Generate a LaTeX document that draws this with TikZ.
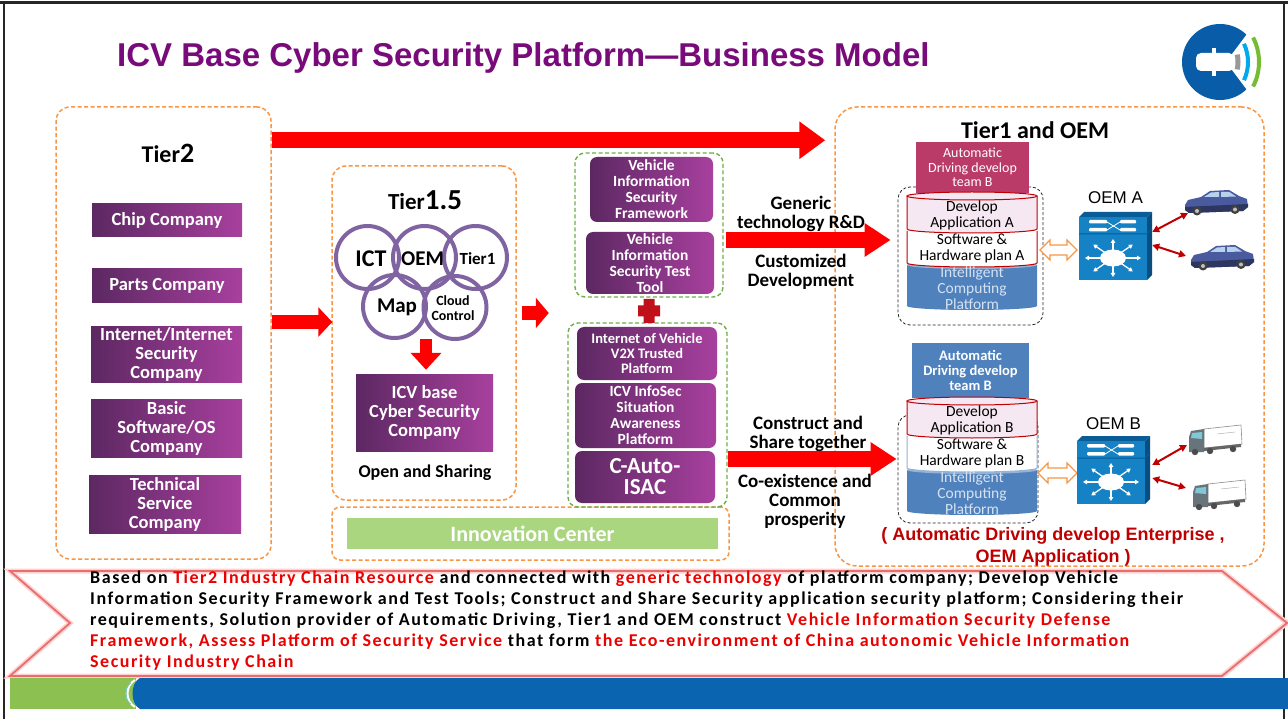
\documentclass[tikz,border=0pt]{standalone}
\usepackage{fontspec}
\setmainfont{Carlito}
\newfontfamily\arialfont{Liberation Sans}
\newfontfamily\bandfont{Carlito}[LetterSpace=8.5]
\usetikzlibrary{arrows.meta,positioning,calc}

\definecolor{titlepurple}{RGB}{120,10,122}
\definecolor{tierorange}{RGB}{247,150,70}
\definecolor{groupgreen}{RGB}{112,173,71}
\definecolor{innogreen}{RGB}{169,214,126}
\definecolor{ringpurple}{RGB}{128,100,162}
\definecolor{boxdark}{RGB}{92,40,98}
\definecolor{boxlight}{RGB}{168,64,158}
\definecolor{teamred}{RGB}{186,58,104}
\definecolor{platblue}{RGB}{79,129,189}
\definecolor{bandgrey}{RGB}{150,178,212}
\definecolor{platfont}{RGB}{214,226,242}
\definecolor{appink}{RGB}{246,232,242}
\definecolor{darkred}{RGB}{192,0,0}
\definecolor{hotred}{RGB}{255,0,0}
\definecolor{plusred}{RGB}{192,16,26}
\definecolor{switchblue}{RGB}{20,130,196}
\definecolor{switchdark}{RGB}{10,92,150}
\definecolor{carblue}{RGB}{74,90,158}
\definecolor{glass}{RGB}{184,210,236}
\definecolor{cabgrey}{RGB}{104,116,124}
\definecolor{cabglass}{RGB}{128,200,214}
\definecolor{barblue}{RGB}{10,100,175}
\definecolor{bargreen}{RGB}{140,193,82}
\definecolor{logoblue}{RGB}{8,92,168}
\definecolor{logosky}{RGB}{0,170,235}
\definecolor{logogreen}{RGB}{118,188,50}
\definecolor{bandline}{RGB}{232,110,110}
\definecolor{textred}{RGB}{235,0,0}

\newcommand{\redtext}[1]{\textcolor{textred}{#1}}

% layered platform: pink app layer, white plan layer, blue computing base
\newcommand{\appstack}[3]{%
  \begin{scope}[shift={(0,#1)}]
    \fill[platblue] (907,265) -- (907,306) arc[start angle=180, end angle=0, x radius=65, y radius=4] -- (1037,265) -- cycle;
    \fill[bandgrey] (972,265) ellipse [x radius=65, y radius=4];
    \draw[#3, fill=white, line width=1pt] (907,231) -- (907,263) arc[start angle=180, end angle=0, x radius=65, y radius=4] -- (1037,231);
    \draw[darkred, fill=appink, line width=1pt] (907,196) -- (907,229) arc[start angle=180, end angle=0, x radius=65, y radius=4] -- (1037,196);
    \draw[darkred, fill=appink, line width=1pt] (972,196) ellipse [x radius=65, y radius=4];
    \node[stacktext] (develop#2) at (972,215.5) {Develop\\Application #2};
    \node[stacktext] (plan#2) at (972,248) {Software \&\\Hardware plan #2};
    \node[stacktext, text=platfont] (computing#2) at (972,288.5) {Intelligent\\Computing\\Platform};
  \end{scope}}

% network switch, (#1,#2) is the top left corner
\newcommand{\switchicon}[2]{%
  \begin{scope}[shift={(#1,#2)}]
    \fill[switchdark] (0,5) -- (5,0) -- (73,0) -- (68,5) -- cycle;
    \fill[switchdark!85!black] (68,5) -- (73,0) -- (73,63) -- (68,68) -- cycle;
    \fill[switchblue] (0,5) rectangle (68,68);
    \draw[switchdark, line width=1pt] (0,22) -- (68,22) -- (73,17);
    \fill[white, rounded corners=1pt] (10,8) rectangle (28,11.5) (41,8) rectangle (57,11.5) (10,16) rectangle (28,19.5) (41,16) rectangle (57,19.5);
    \draw[white, line width=0.8pt] (28,10) -- (41,18) (28,18) -- (41,10);
    \fill[white] (34,46) ellipse [x radius=13, y radius=8.5];
    \foreach \a in {0,45,...,315}
      \draw[white, line width=1.3pt, -{Triangle[length=4pt,width=4.5pt]}] ({34+12*cos(\a)},{46+8*sin(\a)}) -- ({34+28*cos(\a)},{46+19*sin(\a)});
  \end{scope}}

\newcommand{\caricon}[2]{%
  \begin{scope}[shift={(#1,#2)}]
    \fill[carblue] (0,15) -- (3,10) -- (16,7) -- (25,1) -- (44,0) -- (54,6) -- (62,9) -- (63,17) -- (58,21) -- (4,23) -- (0,20) -- cycle;
    \fill[glass] (19,7) -- (26,2.5) -- (34,2) -- (34,7) -- cycle;
    \fill[glass] (36,7) -- (36,2) -- (44,1.8) -- (51,6.5) -- cycle;
    \fill[carblue!60!black] (0,17) -- (63,14) -- (63,17) -- (58,21) -- (4,23) -- (0,20) -- cycle;
    \foreach \w/\h in {12/21,50/19.5} {
      \fill[black!75] (\w,\h) circle (4.5);
      \fill[black!25] (\w,\h) circle (2);}
  \end{scope}}

\newcommand{\truckicon}[2]{%
  \begin{scope}[shift={(#1,#2)}]
    \filldraw[fill=white, draw=black!45, line width=0.6pt] (15,4) -- (52,0) -- (53,19) -- (15,23) -- cycle;
    \draw[black!30, line width=0.5pt] (28,9) -- (46,7);
    \fill[cabgrey] (0,12) -- (2,6) -- (15,4) -- (15,27) -- (0,27) -- cycle;
    \fill[cabglass] (2,13) -- (3,8) -- (13,7) -- (13,14) -- cycle;
    \fill[black!60] (15,23) -- (52,19) -- (52,22) -- (15,26) -- cycle;
    \foreach \w/\h in {6/27,21/26,44/24} \fill[black!70] (\w,\h) circle (3.2);
  \end{scope}}

\newcommand{\hollowarrow}[3]{%
  \draw[tierorange, fill=white, line width=1.1pt] (#1,#3) -- ++(10,-10) -- ++(0,5) -- (#2-10,#3-5) -- ++(0,-5) -- (#2,#3) -- ++(-10,10) -- ++(0,-5) -- (#1+10,#3+5) -- ++(0,5) -- cycle;}

\tikzset{
  tierbox/.style={draw=tierorange, line width=1.5pt, dash pattern=on 4pt off 2.5pt, rounded corners=14pt, inner sep=0pt},
  groupbox/.style={draw=groupgreen, line width=1.4pt, dash pattern=on 4pt off 2.5pt, rounded corners=10pt, inner sep=0pt},
  stackframe/.style={draw=black!85, line width=0.8pt, dash pattern=on 3pt off 2pt, rounded corners=12pt, inner sep=0pt},
  company/.style={left color=boxdark, right color=boxlight, text=white, align=center, inner sep=0pt, font=\bfseries\fontsize{18.5}{19}\selectfont},
  platbox/.style={company, rounded corners=7pt, font=\bfseries\fontsize{15.5}{16}\selectfont},
  teambox/.style={text=white, align=center, inner sep=0pt},
  ring/.style={circle, draw=ringpurple, line width=4pt, minimum size=63pt, inner sep=0pt},
  midtext/.style={align=center, font=\bfseries\fontsize{19}{19}\selectfont},
  stacktext/.style={align=center, font=\fontsize{15.5}{16}\selectfont},
  bigarrow/.style={draw=hotred, line width=16pt, -{Triangle[length=26pt, width=36pt]}},
  smallarrow/.style={draw=hotred, line width=14pt, -{Triangle[length=14pt, width=29pt]}},
  linkarrow/.style={draw=darkred, line width=2pt, {Triangle[length=7pt, width=7pt]}-{Triangle[length=7pt, width=7pt]}},
}

\begin{document}
\begin{tikzpicture}[x=1pt,y=-1pt]
  \useasboundingbox (0,0) rectangle (1288,719);
  \fill[white] (0,0) rectangle (1288,719);
  \draw[black!85, line width=1.5pt] (4,3) -- (4,719) (1284,3) -- (1284,719);
  \draw[black!85, line width=3pt] (0,3) -- (1288,3);

  % title and logo
  \node[anchor=west, inner sep=0pt, text=titlepurple, font=\arialfont\bfseries\fontsize{33}{36}\selectfont] (title) at (117,58) {ICV Base Cyber Security Platform—Business Model};
  \fill[logoblue] (1220,62) circle (38);
  \fill[white] (1226,62) -- (1268,6) -- (1268,118) -- cycle;
  \fill[white, rounded corners=5pt] (1196,53) rectangle (1234,71);
  \fill[white] (1212,48) rectangle (1216,76);
  \draw[black!40, line width=5pt] (1205,62) ++(-13:33) arc[start angle=-13, end angle=13, radius=33];
  \draw[logosky, line width=4pt] (1205,62) ++(-25:43) arc[start angle=-25, end angle=25, radius=43];
  \draw[logogreen, line width=4pt] (1205,62) ++(-27:54) arc[start angle=-27, end angle=27, radius=54];

  % Tier2
  \node[tierbox, minimum width=215pt, minimum height=452pt] (tiertwo) at (163.5,333) {};
  \node[font=\bfseries] (tiertwotitle) at (168,153) {\fontsize{24}{28}\selectfont Tier\fontsize{28}{28}\selectfont 2};
  \node[company, minimum width=150pt, minimum height=33pt] (chip) at (167,220.5) {Chip Company};
  \node[company, minimum width=150pt, minimum height=34pt] (parts) at (167,286) {Parts Company};
  \node[company, minimum width=151pt, minimum height=55pt] (internet) at (166.5,354.5) {Internet/Internet\\Security\\Company};
  \node[company, minimum width=151pt, minimum height=58pt] (basic) at (166.5,428) {Basic\\Software/OS\\Company};
  \node[company, minimum width=152pt, minimum height=58pt] (technical) at (165,504) {Technical\\Service\\Company};

  % Tier1.5
  \node[tierbox, minimum width=184pt, minimum height=334pt] (tiermid) at (424,333) {};
  \node[font=\bfseries] (tiermidtitle) at (425,200) {\fontsize{23}{28}\selectfont Tier\fontsize{29}{28}\selectfont 1.5};
  \foreach \n/\x/\y in {ict/367.5/257.5, oem/424.5/257.5, tierone/475.5/257.5, map/394.5/306.5, cloud/455/307.5}
    \node[ring] (\n) at (\x,\y) {};
  \node[font=\bfseries\fontsize{24}{24}\selectfont] at (371,259) {ICT};
  \node[font=\bfseries\fontsize{21}{21}\selectfont] at (422.5,259) {OEM};
  \node[font=\bfseries\fontsize{17}{17}\selectfont] at (477.5,259) {Tier1};
  \node[font=\bfseries\fontsize{21}{21}\selectfont] at (397,307) {Map};
  \node[font=\bfseries\fontsize{14}{15}\selectfont, align=center] at (453,308) {Cloud\\Control};
  \node[company, minimum width=137pt, minimum height=77pt] (icvco) at (424.5,412.5) {ICV base\\Cyber Security\\Company};
  \node[midtext, font=\bfseries\fontsize{18}{18}\selectfont] (sharing) at (425,473) {Open and Sharing};

  % innovation center
  \node[tierbox, rounded corners=8pt, minimum width=397pt, minimum height=53pt] (innobox) at (530.5,533.5) {};
  \node[fill=innogreen, minimum width=371pt, minimum height=31pt, inner sep=0pt, text=white, font=\bfseries\fontsize{22}{22}\selectfont] (inno) at (532.5,533.5) {Innovation Center};

  % security platforms
  \node[groupbox, minimum width=148pt, minimum height=144pt] (groupA) at (649,225) {};
  \node[groupbox, minimum width=159pt, minimum height=184pt] (groupB) at (647.5,415) {};
  \node[platbox, minimum width=123pt, minimum height=65pt] (framework) at (651.5,189.5) {Vehicle\\Information\\Security\\Framework};
  \node[platbox, minimum width=128pt, minimum height=62pt] (testtool) at (650,263) {Vehicle\\Information\\Security Test\\Tool};
  \node[platbox, minimum width=140pt, minimum height=53pt, font=\bfseries\fontsize{14.5}{15}\selectfont] (vtwox) at (647,353.5) {Internet of Vehicle\\V2X Trusted\\Platform};
  \node[platbox, minimum width=141pt, minimum height=65pt] (infosec) at (645.5,415.5) {ICV InfoSec\\Situation\\Awareness\\Platform};
  \node[platbox, minimum width=140pt, minimum height=52pt, font=\bfseries\fontsize{23}{21}\selectfont] (isac) at (645,477) {C-Auto-\\ISAC};
  \fill[plusred] (643.5,299) rectangle (654.5,323) (638,305.5) rectangle (660,316.5);

  % Tier1 and OEM
  \node[tierbox, rounded corners=22pt, minimum width=429pt, minimum height=459pt] (tieroem) at (1049.5,336.5) {};
  \node[font=\bfseries\fontsize{24}{24}\selectfont] (tieroemtitle) at (1035,130) {Tier1 and OEM};
  \node[stackframe, minimum width=145pt, minimum height=138pt] (stackA) at (970.5,256) {};
  \node[stackframe, minimum width=140pt, minimum height=108pt] (stackB) at (968,469) {};
  \node[teambox, fill=teamred, font=\fontsize{14}{14.5}\selectfont, minimum width=113pt, minimum height=51pt] (teamA) at (972.5,167.5) {Automatic\\Driving develop\\team B};
  \node[teambox, fill=platblue, font=\bfseries\fontsize{14.5}{15}\selectfont, minimum width=117pt, minimum height=55pt] (teamB) at (970.5,370.5) {Automatic\\Driving develop\\team B};
  \appstack{0}{A}{darkred}
  \appstack{205}{B}{bandgrey}
  \hollowarrow{1040}{1077}{250}
  \hollowarrow{1038}{1077}{473}

  \node[minimum width=73pt, minimum height=68pt, inner sep=0pt] (oemA) at (1115.5,246) {};
  \node[minimum width=73pt, minimum height=68pt, inner sep=0pt] (oemB) at (1113.5,470) {};
  \switchicon{1079}{212}
  \switchicon{1077}{436}
  \node[above=5pt of oemA, font=\arialfont\fontsize{17}{17}\selectfont] (oemAname) {OEM A};
  \node[above=3pt of oemB, font=\arialfont\fontsize{17}{17}\selectfont] (oemBname) {OEM B};
  \caricon{1185}{190}
  \caricon{1191}{245}
  \truckicon{1189}{425}
  \truckicon{1193}{480}
  \coordinate (carA) at (1188,213);
  \coordinate (carB) at (1186,256);
  \coordinate (truckA) at (1187,445);
  \coordinate (truckB) at (1186,488);
  \draw[linkarrow] ($(oemA.east)+(0,-14)$) -- (carA);
  \draw[linkarrow] ($(oemA.east)+(0,-1)$) -- (carB);
  \draw[linkarrow] ($(oemB.east)+(2,-5)$) -- (truckA);
  \draw[linkarrow] ($(oemB.east)+(2,8)$) -- (truckB);
  \node[text=darkred, align=center, font=\arialfont\bfseries\fontsize{18}{22}\selectfont] (note) at (1053,547) {( Automatic Driving develop Enterprise ,\\OEM Application )};

  % labels between the columns
  \node[midtext] (generic) at (801,214) {Generic\\technology R\&D};
  \node[midtext] (custom) at (801,272) {Customized\\Development};
  \node[midtext] (construct) at (808,434) {Construct and\\Share together};
  \node[midtext] (coexist) at (805,501) {Co-existence and\\Common\\prosperity};

  % red flow arrows
  \draw[bigarrow] ($(tiertwo.north east)+(0,34)$) -- ($(tieroem.north west)+(-9,34)$);
  \draw[smallarrow] ($(tiertwo.east)+(0,-11)$) -- ($(tiermid.west)+(1,-11)$);
  \draw[smallarrow, -{Triangle[length=13pt, width=30pt]}] ($(tiermid.east)+(5,-20)$) -- ($(tiermid.east)+(32,-20)$);
  \draw[bigarrow, -{Triangle[length=26pt, width=32pt]}] ($(groupA.east)+(2,15)$) -- ($(stackA.west)+(-7,-16)$);
  \draw[bigarrow, -{Triangle[length=26pt, width=32pt]}] ($(groupB.east)+(0,44)$) -- ($(stackB.west)+(-1,-10)$);
  \draw[hotred, line width=12pt, -{Triangle[length=17pt, width=30pt]}] ($(icvco.north)+(1.5,-35)$) -- ($(icvco.north)+(1.5,-4)$);

  % summary band
  \coordinate (b1) at (10,571); \coordinate (b2) at (1222,571); \coordinate (b3) at (1287,623);
  \coordinate (b4) at (1222,676); \coordinate (b5) at (10,676); \coordinate (b6) at (70,623);
  \draw[red!18, line width=5pt] (b1)--(b2)--(b3)--(b4)--(b5)--(b6)--cycle;
  \draw[bandline, line width=1.8pt] (b1)--(b2)--(b3)--(b4)--(b5)--(b6)--cycle;
  \node[anchor=north west, inner sep=0pt, align=left, font=\bandfont\bfseries\fontsize{18}{21}\selectfont] (summary) at (90,571)
    {Based on \redtext{Tier2 Industry Chain Resource} and connected with \redtext{generic technology} of platform company; Develop Vehicle\\
     Information Security Framework and Test Tools; Construct and Share Security application security platform; Considering their\\
     requirements, Solution provider of Automatic Driving, Tier1 and OEM construct \redtext{Vehicle Information Security Defense}\\
     \redtext{Framework, Assess Platform of Security Service} that form \redtext{the Eco-environment of China autonomic Vehicle Information}\\
     \redtext{Security Industry Chain}};

  % footer bar
  \fill[bargreen] (10,678) rectangle (136,709);
  \fill[barblue] (1288,678) -- (140,678) .. controls (130,683) and (130,704) .. (140,709) -- (1288,709) -- cycle;
  \draw[white, line width=2pt] (135,680) .. controls (125,686) and (125,701) .. (135,707);
  \draw[logosky!60, line width=0.8pt] (131,683) .. controls (124,688) and (124,699) .. (131,704);
\end{tikzpicture}
\end{document}
